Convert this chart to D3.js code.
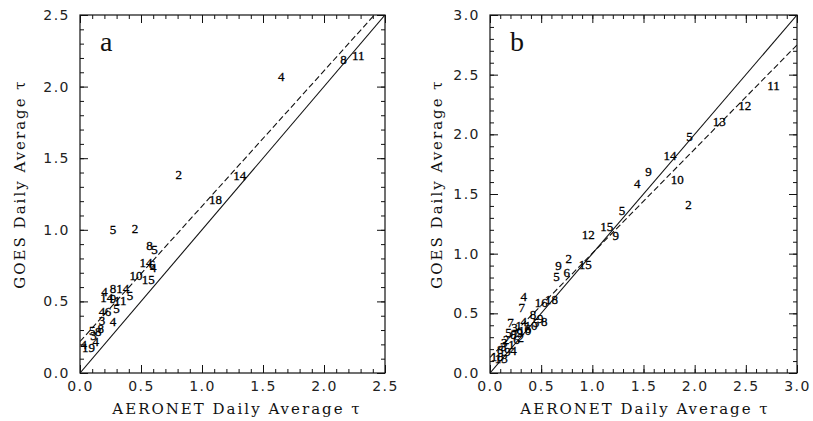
<!DOCTYPE html>
<html>
<head>
<meta charset="utf-8">
<script src="https://cdn.jsdelivr.net/npm/d3@7"></script>
<style>
  body { margin: 0; background: #fff; }
  .tick text { font-family: "DejaVu Sans", sans-serif; font-size: 14px; letter-spacing: 1.5px; fill: #222; }
  .ttl { font-family: "DejaVu Serif", serif; font-size: 15px; letter-spacing: 2px; fill: #111; }
  .pt { font-family: "Liberation Serif", serif; font-size: 13px; fill: #000; stroke: #000; stroke-width: 0.3px; }
</style>
</head>
<body>
<div id="chart"></div>
<script>
const W = 813, H = 421;

// panel a : AERONET vs GOES daily average tau, labels are day numbers
const aLab = ["4", "8", "11", "2", "14", "18", "5", "2", "8", "5", "14", "6", "4", "10", "15",
  "4", "8", "14", "5", "14", "9", "11", "5", "4", "6", "4", "3", "8", "8", "5", "3", "4", "19", "4"];
const aX = [1.65, 2.16, 2.28, 0.81, 1.31, 1.11, 0.27, 0.45, 0.57, 0.61, 0.54, 0.59, 0.60, 0.46, 0.56,
  0.20, 0.27, 0.35, 0.41, 0.22, 0.27, 0.33, 0.30, 0.18, 0.23, 0.27, 0.18, 0.17, 0.15, 0.10, 0.11, 0.03, 0.07, 0.13];
const aY = [2.07, 2.19, 2.22, 1.39, 1.38, 1.21, 1.00, 1.01, 0.89, 0.86, 0.77, 0.76, 0.74, 0.68, 0.65,
  0.57, 0.59, 0.59, 0.54, 0.53, 0.52, 0.51, 0.45, 0.43, 0.43, 0.36, 0.37, 0.31, 0.29, 0.30, 0.26, 0.20, 0.18, 0.22];
const aFit = [0.22, 0.945]; // intercept, slope

// panel b
const bLab = ["11", "12", "13", "5", "14", "9", "4", "10", "2", "5", "15", "12", "9", "2", "15", "9", "5", "6",
  "4", "16", "18", "7", "8", "9", "5", "8", "7", "3", "1", "4", "10", "9", "8", "5", "2", "6", "1", "3", "9", "18", "13", "4",
  "7", "2", "6", "10", "3", "8"];
const bX = [2.77, 2.49, 2.24, 1.95, 1.76, 1.55, 1.44, 1.83, 1.94, 1.29, 1.14, 0.96, 1.23, 0.77, 0.93, 0.67, 0.65, 0.75,
  0.33, 0.50, 0.60, 0.31, 0.42, 0.49, 0.45, 0.53, 0.20, 0.24, 0.28, 0.33, 0.34, 0.29, 0.23, 0.18, 0.16, 0.26, 0.21, 0.13, 0.17, 0.07, 0.11, 0.23,
  0.25, 0.30, 0.37, 0.40, 0.14, 0.10];
const bY = [2.41, 2.24, 2.11, 1.98, 1.82, 1.69, 1.59, 1.62, 1.41, 1.36, 1.23, 1.16, 1.15, 0.96, 0.91, 0.90, 0.81, 0.84,
  0.64, 0.59, 0.62, 0.55, 0.49, 0.46, 0.42, 0.43, 0.42, 0.38, 0.40, 0.43, 0.36, 0.34, 0.32, 0.34, 0.28, 0.28, 0.24, 0.22, 0.18, 0.14, 0.12, 0.19,
  0.33, 0.30, 0.37, 0.40, 0.26, 0.20];
const bFit = [0.13, 0.873];

const aTicks = [0, 0.5, 1.0, 1.5, 2.0, 2.5];
const bTicks = [0, 0.5, 1.0, 1.5, 2.0, 2.5, 3.0];

const svg = d3.select("#chart").append("svg")
  .attr("width", W)
  .attr("height", H);

function panel(id, left, right, max, ticks, labs, xs, ys, fit, letter, xTitleX, yTitleX) {
  const top = 15, bottom = 373;
  const x = d3.scaleLinear([0, max], [left, right]);
  const y = d3.scaleLinear([0, max], [bottom, top]);
  const minor = d3.range(0, max + 0.001, 0.1).map((v) => +v.toFixed(1));
  const fmt = d3.format(".1f");

  const g = svg.append("g");

  g.append("clipPath").attr("id", "clip" + id)
    .append("rect")
    .attr("x", left).attr("y", top)
    .attr("width", right - left).attr("height", bottom - top);

  function ax(axis, tr, size, vals, labels) {
    const a = g.append("g")
      .attr("transform", tr)
      .call(axis.tickValues(vals).tickSize(size).tickSizeOuter(0).tickPadding(labels ? 8 : 0)
        .tickFormat(labels ? fmt : ""));
    a.select(".domain").remove();
    a.selectAll(".tick line").attr("stroke", "#111");
    return a;
  }
  // major + minor ticks, all four sides, pointing inward
  ax(d3.axisBottom(x), `translate(0,${bottom})`, -8, ticks, true);
  ax(d3.axisBottom(x), `translate(0,${bottom})`, -4, minor, false);
  ax(d3.axisTop(x), `translate(0,${top})`, -8, ticks, false);
  ax(d3.axisTop(x), `translate(0,${top})`, -4, minor, false);
  ax(d3.axisLeft(y), `translate(${left},0)`, -8, ticks, true).selectAll("text").attr("dx", "-2px");
  ax(d3.axisLeft(y), `translate(${left},0)`, -4, minor, false);
  ax(d3.axisRight(y), `translate(${right},0)`, -8, ticks, false);
  ax(d3.axisRight(y), `translate(${right},0)`, -4, minor, false);

  g.append("rect")
    .attr("x", left).attr("y", top)
    .attr("width", right - left).attr("height", bottom - top)
    .attr("fill", "none").attr("stroke", "#111").attr("stroke-width", 1.2);

  const lines = g.append("g").attr("clip-path", `url(#clip${id})`);
  lines.append("line")
    .attr("x1", x(0)).attr("y1", y(0)).attr("x2", x(max)).attr("y2", y(max))
    .attr("stroke", "#111").attr("stroke-width", 1.1);
  lines.append("line")
    .attr("x1", x(0)).attr("y1", y(fit[0]))
    .attr("x2", x(max)).attr("y2", y(fit[0] + fit[1] * max))
    .attr("stroke", "#111").attr("stroke-width", 1.1)
    .attr("stroke-dasharray", "6,3");

  g.selectAll(".pt").data(labs).join("text")
    .attr("class", "pt")
    .attr("x", (d, i) => x(xs[i]))
    .attr("y", (d, i) => y(ys[i]))
    .attr("dy", "0.35em")
    .attr("text-anchor", "middle")
    .text((d) => d);

  g.append("text")
    .attr("x", left + 20).attr("y", 51)
    .attr("font-family", "Liberation Serif, serif")
    .attr("font-size", 28)
    .attr("fill", "#111")
    .text(letter);

  g.append("text").attr("class", "ttl")
    .attr("x", xTitleX).attr("y", 414)
    .attr("text-anchor", "middle")
    .text("AERONET Daily Average \u03c4");

  g.append("text").attr("class", "ttl")
    .attr("transform", `translate(${yTitleX},${(top + bottom) / 2 - 10}) rotate(-90)`)
    .attr("text-anchor", "middle")
    .text("GOES Daily Average \u03c4");
}

panel("a", 80, 385, 2.5, aTicks, aLab, aX, aY, aFit, "a", 237, 25);
panel("b", 490, 797, 3.0, bTicks, bLab, bX, bY, bFit, "b", 645, 442);
</script>
</body>
</html>
